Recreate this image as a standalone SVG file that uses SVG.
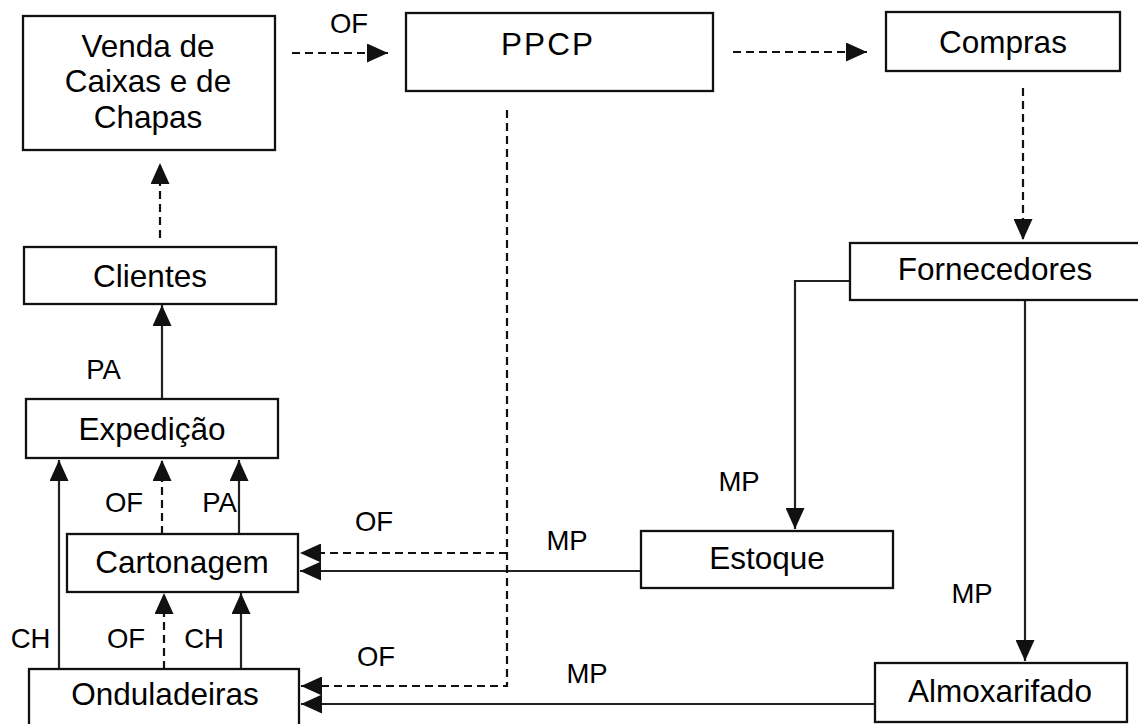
<svg xmlns="http://www.w3.org/2000/svg" width="1138" height="724" viewBox="0 0 1138 724">
<style>
  .box { fill: #fff; stroke: #111; stroke-width: 2.3; }
  .t { font-family: "Liberation Sans", Arial, sans-serif; font-size: 31.5px; fill: #000; text-anchor: middle; }
  .lbl { font-family: "Liberation Sans", Arial, sans-serif; font-size: 27.5px; fill: #000; text-anchor: middle; }
  .solid { fill: none; stroke: #222; stroke-width: 2.2; }
  .dash { fill: none; stroke: #111; stroke-width: 2.2; stroke-dasharray: 8 5; }
</style>
<defs>
  <marker id="ah" markerUnits="userSpaceOnUse" markerWidth="21" markerHeight="19" refX="21" refY="9.5" orient="auto" viewBox="0 0 21 19">
    <path d="M0,0 L21,9.5 L0,19 z" fill="#111"/>
  </marker>
</defs>
<rect width="1138" height="724" fill="#fff"/>

<g id="connectors">
  <path class="dash" d="M292,53 H388" marker-end="url(#ah)"/>
  <path class="dash" d="M733,52 H867" marker-end="url(#ah)"/>
  <path class="dash" d="M1023,88 V240" marker-end="url(#ah)"/>
  <path class="solid" d="M850,281 H795 V529" marker-end="url(#ah)"/>
  <path class="solid" d="M1025,300 V661" marker-end="url(#ah)"/>
  <path class="solid" d="M641,571 H300" marker-end="url(#ah)"/>
  <path class="solid" d="M875,704 H301" marker-end="url(#ah)"/>
  <path class="dash" d="M507,110 V686 H301" marker-end="url(#ah)"/>
  <path class="dash" d="M507,553 H300" marker-end="url(#ah)"/>
  <path class="dash" d="M160,238 V163" marker-end="url(#ah)"/>
  <path class="solid" d="M162,399 V305" marker-end="url(#ah)"/>
  <path class="solid" d="M59,669 V460" marker-end="url(#ah)"/>
  <path class="dash" d="M162,534 V460" marker-end="url(#ah)"/>
  <path class="solid" d="M239,534 V460" marker-end="url(#ah)"/>
  <path class="dash" d="M164,669 V593" marker-end="url(#ah)"/>
  <path class="solid" d="M241,669 V593" marker-end="url(#ah)"/>
</g>

<g id="labels">
  <text class="lbl" x="349" y="33">OF</text>
  <text class="lbl" x="103.5" y="379">PA</text>
  <text class="lbl" x="124" y="512">OF</text>
  <text class="lbl" x="219.5" y="512">PA</text>
  <text class="lbl" x="374" y="531">OF</text>
  <text class="lbl" x="567" y="550">MP</text>
  <text class="lbl" x="739" y="491">MP</text>
  <text class="lbl" x="972" y="603">MP</text>
  <text class="lbl" x="30.5" y="648">CH</text>
  <text class="lbl" x="126" y="648">OF</text>
  <text class="lbl" x="204" y="648">CH</text>
  <text class="lbl" x="376" y="666">OF</text>
  <text class="lbl" x="587" y="683">MP</text>
</g>

<g id="venda">
  <rect class="box" x="23" y="16" width="252" height="134"/>
  <text class="t" x="148" y="57">Venda de</text>
  <text class="t" x="148" y="92">Caixas e de</text>
  <text class="t" x="148" y="128">Chapas</text>
</g>
<g id="ppcp">
  <rect class="box" x="406" y="13" width="307" height="78"/>
  <text class="t" x="548" y="55" letter-spacing="2">PPCP</text>
</g>
<g id="compras">
  <rect class="box" x="886" y="12" width="234" height="59"/>
  <text class="t" x="1003" y="53">Compras</text>
</g>
<g id="fornecedores">
  <rect class="box" x="850" y="243" width="300" height="57"/>
  <text class="t" x="995" y="280">Fornecedores</text>
</g>
<g id="clientes">
  <rect class="box" x="24" y="247" width="252" height="57"/>
  <text class="t" x="150" y="287">Clientes</text>
</g>
<g id="expedicao">
  <rect class="box" x="26" y="399" width="252" height="59"/>
  <text class="t" x="152" y="440">Expedição</text>
</g>
<g id="cartonagem">
  <rect class="box" x="67" y="534" width="231" height="58"/>
  <text class="t" x="182" y="573">Cartonagem</text>
</g>
<g id="estoque">
  <rect class="box" x="641" y="531" width="252" height="57"/>
  <text class="t" x="767" y="569">Estoque</text>
</g>
<g id="onduladeiras">
  <rect class="box" x="29" y="669" width="270" height="62"/>
  <text class="t" x="165" y="705">Onduladeiras</text>
</g>
<g id="almoxarifado">
  <rect class="box" x="875" y="663" width="252" height="59"/>
  <text class="t" x="1000" y="702">Almoxarifado</text>
</g>
</svg>
